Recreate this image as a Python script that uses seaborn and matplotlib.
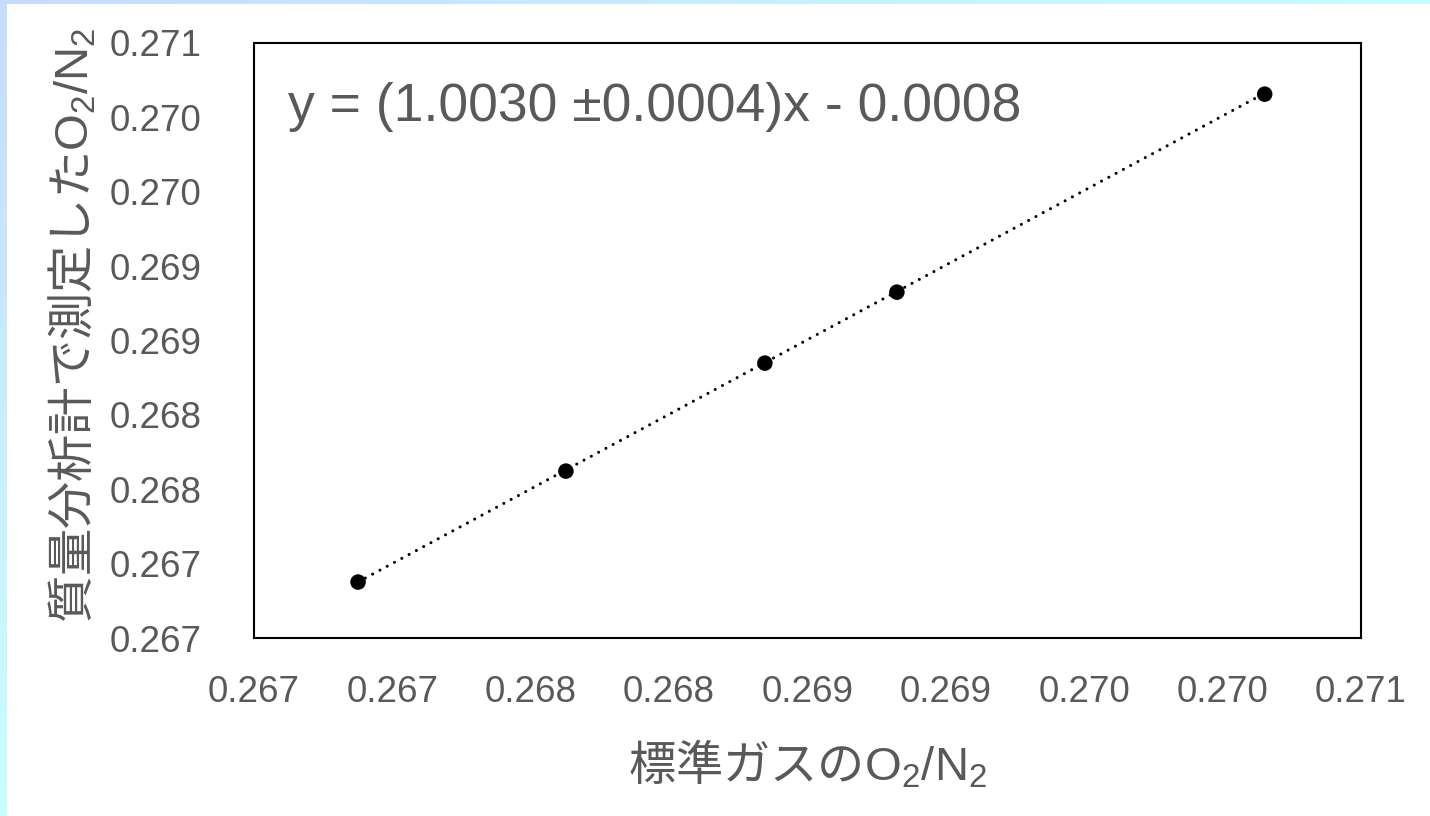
import numpy as np
import pandas as pd
import matplotlib
matplotlib.use("Agg")
import matplotlib.pyplot as plt
from matplotlib.colors import LinearSegmentedColormap
from matplotlib.patches import Rectangle
import seaborn as sns

# Standard gas O2/N2 vs. O2/N2 measured by the mass spectrometer
standard_o2n2 = [0.266876, 0.267627, 0.268346, 0.268823, 0.270152]
measured_o2n2 = [0.266876, 0.267622, 0.268348, 0.268825, 0.270156]

# Fitted calibration line
slope = 1.0030
slope_err = 0.0004
intercept = -0.0008

tick_values = [0.2665, 0.2670, 0.2675, 0.2680, 0.2685, 0.2690, 0.2695, 0.2700, 0.2705]
tick_labels = ["0.267", "0.267", "0.268", "0.268", "0.269", "0.269", "0.270", "0.270", "0.271"]

x_title = r"標準ガスの$\mathsf{O_2/N_2}$"
y_title = r"質量分析計で測定した$\mathsf{O_2/N_2}$"

sns.set_theme(style="white")
plt.rcParams["font.family"] = ["Liberation Sans", "Noto Sans CJK JP"]
plt.rcParams["mathtext.fontset"] = "custom"
plt.rcParams["mathtext.rm"] = "Noto Sans CJK JP"
plt.rcParams["mathtext.sf"] = "Liberation Sans"
plt.rcParams["mathtext.default"] = "regular"

W, H = 1430, 816
fig = plt.figure(figsize=(W / 100, H / 100), dpi=100)
fig.patch.set_facecolor("white")

# Soft blue frame along the top and left edges
bg = fig.add_axes([0, 0, 1, 1], zorder=-10)
gx, gy = np.meshgrid(np.linspace(0, 1, 300), np.linspace(0, 1, 200))
grad = np.clip((gx + gy) / 1.0, 0, 1)
cmap = LinearSegmentedColormap.from_list("edge", ["#c6dcff", "#c8ffff"])
bg.imshow(grad, cmap=cmap, extent=[0, 1, 0, 1], origin="upper", aspect="auto")
bg.add_patch(Rectangle((7 / W, 0), 1, 1 - 4 / H, transform=bg.transAxes,
                       facecolor="white", edgecolor="none"))
bg.set_axis_off()

ax = fig.add_axes([254 / W, 1 - 638 / H, (1361 - 254) / W, (638 - 43) / H])
ax.set_facecolor("white")

df = pd.DataFrame({"standard": standard_o2n2, "measured": measured_o2n2})
fit = pd.DataFrame({"standard": [min(standard_o2n2), max(standard_o2n2)]})
fit["measured"] = slope * fit["standard"] + intercept

sns.lineplot(data=fit, x="standard", y="measured", ax=ax, color="black",
             linewidth=2.2, linestyle=(0, (0.01, 2.7)), dash_capstyle="round",
             zorder=2)
sns.scatterplot(data=df, x="standard", y="measured", ax=ax, color="black",
                s=125, edgecolor="none", zorder=3)

ax.set_xlim(tick_values[0], tick_values[-1])
ax.set_ylim(tick_values[0], tick_values[-1])
ax.set_xticks(tick_values)
ax.set_xticklabels(tick_labels)
ax.set_yticks(tick_values)
ax.set_yticklabels(tick_labels)

text_color = "#595959"
ax.tick_params(axis="both", direction="in", length=8.5, width=1.2,
               color="black", labelsize=26.5, labelcolor=text_color)
ax.tick_params(axis="x", pad=27)
ax.tick_params(axis="y", pad=38)
for side in ["left", "right", "top", "bottom"]:
    ax.spines[side].set_visible(True)
    ax.spines[side].set_color("black")
    ax.spines[side].set_linewidth(1.5)

ax.set_xlabel(x_title, fontsize=34, color=text_color, fontfamily="Noto Sans CJK JP")
ax.set_ylabel(y_title, fontsize=34, color=text_color, fontfamily="Noto Sans CJK JP")
ax.xaxis.set_label_coords(0.5, -0.17)
ax.yaxis.set_label_coords(-0.14, 0.526)

ax.text(0.031, 0.892,
        f"y = ({slope:.4f} \u00b1{slope_err:.4f})x - {abs(intercept):.4f}",
        transform=ax.transAxes, ha="left", va="center",
        fontsize=38.5, color=text_color)

fig.savefig("out.png", dpi=100)
